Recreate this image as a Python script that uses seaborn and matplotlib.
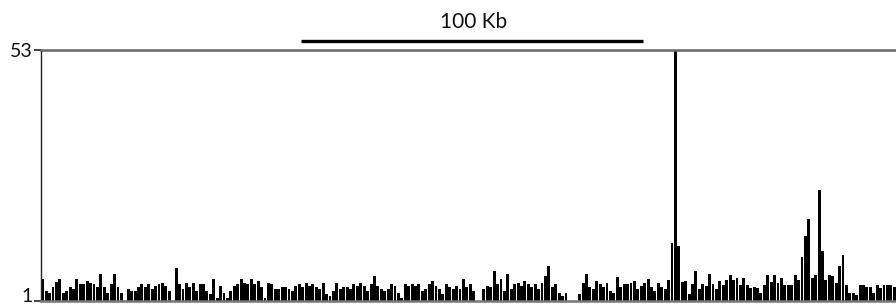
import numpy as np
import pandas as pd
import matplotlib
matplotlib.use("Agg")
import matplotlib.pyplot as plt
import matplotlib.transforms as mtransforms
import seaborn as sns

# --- coverage per 1 kb bin ---
seg_a = [5.5, 3.0, 2.7, 3.8, 5.0, 5.5, 2.7, 3.0, 3.8, 3.4,
         5.5, 4.5, 4.5, 5.2, 4.8, 4.5, 3.8, 6.5, 3.8, 2.7,
         4.5, 6.5, 3.8, 2.7, 1.0, 3.4, 3.0, 3.0, 3.8, 4.5,
         3.8, 4.5, 3.4, 4.1, 4.5, 4.8, 4.1, 3.0, 1.0, 7.9,
         4.5, 3.4, 4.8, 3.8, 4.8, 3.0, 4.5, 4.5, 3.0]
seg_b = [2.4, 5.5, 1.7, 4.1, 2.7, 1.7, 3.1, 4.1, 4.5, 5.5,
         4.8, 4.5, 5.5, 4.5, 5.2, 3.8, 1.7, 4.8, 4.5, 3.4,
         3.4, 3.8, 3.8, 3.4, 3.1, 4.1, 4.5, 3.8, 4.8, 4.1,
         4.5, 3.8, 3.4, 4.8, 2.4, 2.0, 3.1, 4.8, 3.4, 3.8,
         3.8, 3.4, 4.5, 4.1, 4.8, 4.1, 3.1, 4.5, 6.2, 4.1]
seg_c = [3.4, 3.1, 3.4, 4.5, 4.1, 2.7, 1.7, 4.5, 4.1, 4.5,
         4.1, 4.5, 3.1, 3.4, 4.5, 5.2, 4.1, 3.4, 2.4, 4.5,
         3.8, 3.4, 4.1, 3.4, 5.5, 3.8, 4.5, 3.1, 1.0, 1.0,
         3.4, 4.1, 3.8, 7.2, 4.5, 5.5, 3.1, 6.6, 3.4, 4.5,
         4.8, 4.1, 5.2, 4.5, 3.8, 4.5, 3.4, 4.8, 6.2, 8.3]
seg_d = [3.8, 4.5, 2.7, 2.0, 2.7, 1.0, 1.0, 1.0, 2.4, 4.8,
         6.6, 3.8, 3.4, 5.2, 4.5, 3.8, 4.8, 3.1, 2.7, 5.9,
         3.8, 4.5, 4.5, 4.8, 5.2, 3.4, 4.1, 4.8, 5.5, 3.8,
         3.1, 4.8, 3.8, 3.4, 5.4, 13.0, 53.0, 12.3, 5.0, 5.2,
         2.4, 4.5, 7.2, 3.4, 4.5, 4.1, 6.6, 4.5, 3.4, 5.2]
seg_e = [4.3, 5.4, 6.4, 5.4, 5.7, 4.3, 5.7, 4.3, 3.6, 4.0,
         3.6, 2.6, 4.3, 6.4, 5.0, 6.4, 4.7, 5.7, 4.3, 4.3,
         4.3, 6.4, 5.4, 10.2, 14.4, 17.9, 5.7, 6.4, 24.1, 11.3,
         5.4, 6.4, 6.1, 4.7, 8.2, 10.6, 4.3, 2.6, 2.6, 2.3,
         4.3, 4.3, 4.0, 4.0, 2.6, 4.3, 3.6, 4.3, 4.3, 4.3, 4.0]

coverage = seg_a + seg_b + seg_c + seg_d + seg_e
y_ticks = [1, 53]
scale_kb = 100
scale_start_kb = 76
scale_label = "100 Kb"

df = pd.DataFrame({"bin": np.arange(len(coverage)), "cov": coverage})

sns.set_style("white")
plt.rcParams["font.family"] = ["Lato", "DejaVu Sans"]

fig = plt.figure(figsize=(8.96, 3.06), dpi=100)
ax = fig.add_axes([0.0458, 0.0163, 0.9542, 0.8203])

sns.barplot(data=df, x="bin", y="cov", color="black", width=0.85,
            linewidth=0, saturation=1, ax=ax, native_scale=False)

ax.set_ylim(1, 53)
ax.set_xlim(-0.5, len(coverage) - 0.5)
ax.set_xticks([])
ax.set_xlabel("")
ax.set_ylabel("")
ax.set_yticks(y_ticks)
ax.set_yticklabels([str(t) for t in y_ticks], fontsize=14, color="#111111")
ax.tick_params(axis="y", length=5, width=1.2, color="#222222", pad=1, left=True)

# lift the bottom label a little so it sits inside the figure like the original
low_label = ax.get_yticklabels()[0]
low_label.set_transform(low_label.get_transform() +
                        mtransforms.ScaledTranslation(0, 4 / 72, fig.dpi_scale_trans))

ax.spines["right"].set_visible(False)
ax.spines["left"].set_color("#222222")
ax.spines["left"].set_linewidth(1.0)
ax.spines["top"].set_color("#666666")
ax.spines["top"].set_linewidth(1.8)
ax.spines["bottom"].set_color("#777777")
ax.spines["bottom"].set_linewidth(1.8)

# scale bar above the track
trans = mtransforms.blended_transform_factory(ax.transData, ax.transAxes)
ax.plot([scale_start_kb - 0.5, scale_start_kb + scale_kb - 0.5], [1.036, 1.036],
        color="black", linewidth=2.4, transform=trans, clip_on=False,
        solid_capstyle="butt")
ax.text(scale_start_kb + scale_kb / 2, 1.07, scale_label, transform=trans,
        ha="center", va="bottom", fontsize=15, color="#111111")

fig.savefig("out.png", dpi=100)
